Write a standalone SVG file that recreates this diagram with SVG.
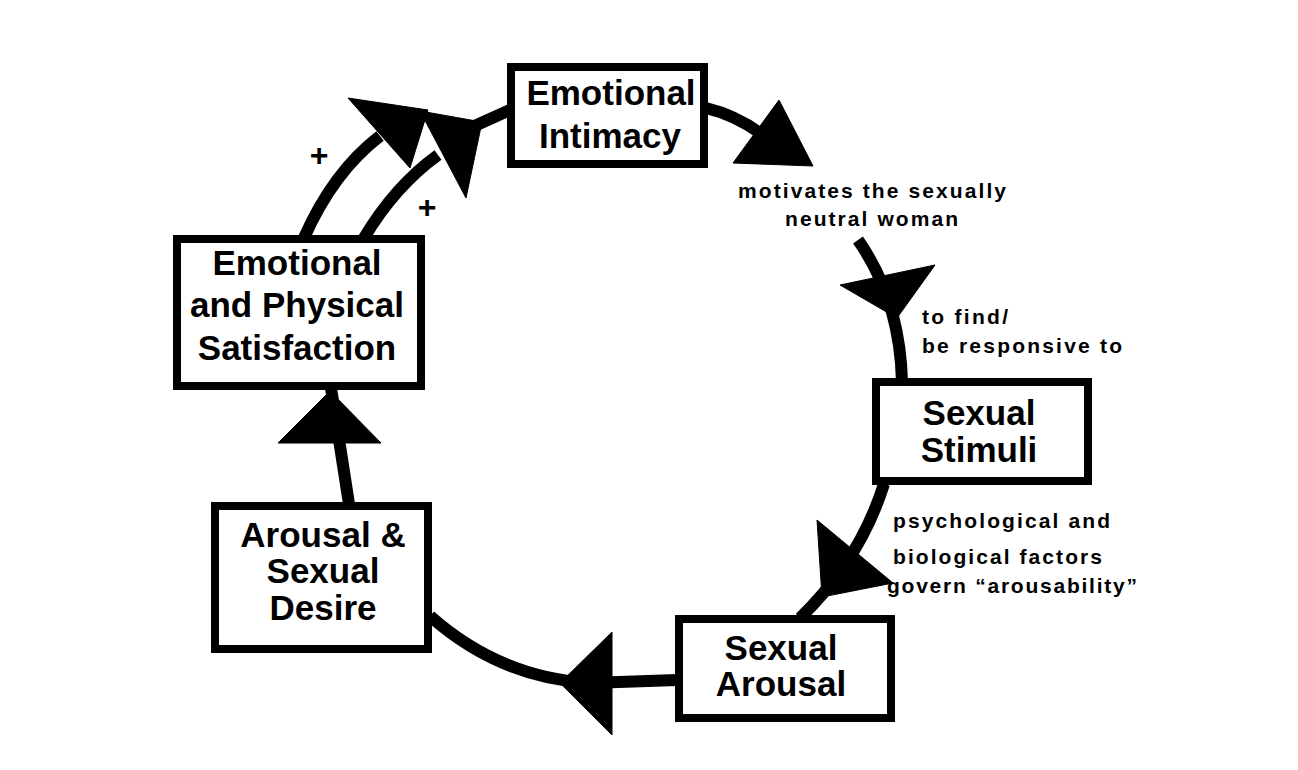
<svg xmlns="http://www.w3.org/2000/svg" width="1298" height="770" viewBox="0 0 1298 770">
  <style>
    .box { fill: #ffffff; stroke: #000000; stroke-width: 8; }
    .node { font-family: "Liberation Sans", Arial, Helvetica, sans-serif; font-weight: bold; font-size: 35px; fill: #000000; text-anchor: middle; }
    .lbl { font-family: "Liberation Sans", Arial, Helvetica, sans-serif; font-weight: bold; font-size: 21px; fill: #000000; }
    .plus { font-family: "Liberation Sans", Arial, Helvetica, sans-serif; font-weight: bold; font-size: 32px; fill: #000000; text-anchor: middle; }
    .line { fill: none; stroke: #000000; stroke-width: 12; stroke-linecap: butt; }
    .ah { fill: #000000; stroke: #000000; stroke-width: 1; stroke-linejoin: miter; }
  </style>
  <rect x="0" y="0" width="1298" height="770" fill="#ffffff"/>

  <g id="connectors">
    <!-- Emotional Intimacy -> Sexual Stimuli (interrupted by label) -->
    <path class="line" d="M706,108 Q735,115 760,133"/>
    <polygon class="ah" points="779,100 813,166 733,163"/>
    <path class="line" d="M858,240 Q900,300 902,382"/>
    <polygon class="ah" points="840,285 935,265 897,318"/>
    <!-- Sexual Stimuli -> Sexual Arousal -->
    <path class="line" d="M884,484 Q860,560 800,618"/>
    <polygon class="ah" points="817,520 893,583 822,597"/>
    <!-- Sexual Arousal -> Arousal & Sexual Desire -->
    <path class="line" d="M677,680 L590,683 Q500,678 430,616"/>
    <polygon class="ah" points="612,632 612,735 560,683"/>
    <!-- Arousal & Sexual Desire -> Emotional and Physical Satisfaction -->
    <path class="line" d="M349,504 L331,388"/>
    <polygon class="ah" points="278,443 381,443 330,391"/>
    <!-- Satisfaction -> Emotional Intimacy (outer) -->
    <path class="line" d="M304,238 Q333,172 380,136"/>
    <polygon class="ah" points="348,98 428,110 410,168"/>
    <!-- Satisfaction -> Emotional Intimacy (inner) -->
    <path class="line" d="M364,238 Q395,186 438,155"/>
    <polygon class="ah" points="420,111 482,122 466,198"/>
    <path class="line" d="M470,128 L510,110"/>
  </g>

  <g id="node-emotional-intimacy">
    <rect class="box" x="511" y="67" width="193" height="97"/>
    <text class="node" x="611" y="105">Emotional</text>
    <text class="node" x="610" y="148">Intimacy</text>
  </g>

  <g id="node-satisfaction">
    <rect class="box" x="177" y="239" width="244" height="147"/>
    <text class="node" x="297" y="275">Emotional</text>
    <text class="node" x="297" y="317">and Physical</text>
    <text class="node" x="297" y="360">Satisfaction</text>
  </g>

  <g id="node-sexual-stimuli">
    <rect class="box" x="876" y="382" width="212" height="99"/>
    <text class="node" x="979" y="425">Sexual</text>
    <text class="node" x="979" y="462">Stimuli</text>
  </g>

  <g id="node-sexual-arousal">
    <rect class="box" x="679" y="619" width="212" height="99"/>
    <text class="node" x="781" y="660">Sexual</text>
    <text class="node" x="781" y="696">Arousal</text>
  </g>

  <g id="node-arousal-desire">
    <rect class="box" x="215" y="506" width="213" height="143"/>
    <text class="node" x="323" y="547">Arousal &amp;</text>
    <text class="node" x="323" y="583">Sexual</text>
    <text class="node" x="323" y="620">Desire</text>
  </g>

  <g id="labels">
    <text class="lbl" x="738" y="198" textLength="268" lengthAdjust="spacing">motivates the sexually</text>
    <text class="lbl" x="785" y="226" textLength="173" lengthAdjust="spacing">neutral woman</text>
    <text class="lbl" x="922" y="324" textLength="86" lengthAdjust="spacing">to find/</text>
    <text class="lbl" x="922" y="353" textLength="200" lengthAdjust="spacing">be responsive to</text>
    <text class="lbl" x="893" y="528" textLength="217" lengthAdjust="spacing">psychological and</text>
    <text class="lbl" x="893" y="564" textLength="209" lengthAdjust="spacing">biological factors</text>
    <text class="lbl" x="887" y="593" textLength="250" lengthAdjust="spacing">govern “arousability”</text>
    <text class="plus" x="319" y="166">+</text>
    <text class="plus" x="427" y="218">+</text>
  </g>
</svg>
